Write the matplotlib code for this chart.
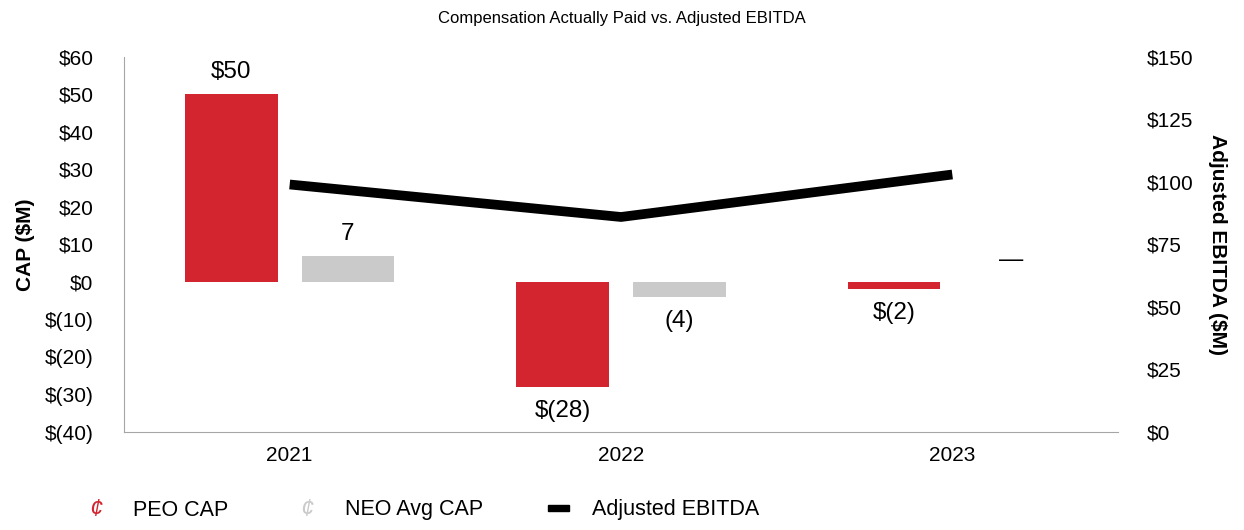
import matplotlib
matplotlib.use("Agg")
import matplotlib.pyplot as plt
import numpy as np
from matplotlib.patches import Rectangle

plt.rcParams["font.family"] = ["Liberation Sans", "DejaVu Sans"]

years = ["2021", "2022", "2023"]
peo_cap = [50, -28, -2]
neo_cap = [7, -4, 0]
ebitda = [99, 86, 103]

RED = "#D2252F"
GRAY = "#CACACA"


def money(v, dollar=True):
    if v == 0:
        return "\u2014"
    s = "$" if dollar else ""
    return f"{s}{v}" if v > 0 else f"{s}({abs(v)})"


fig = plt.figure(figsize=(12.44, 5.30), dpi=100)
ax = fig.add_axes([0.0997, 0.1849, 0.7990, 0.7076])
ax2 = ax.twinx()

x = np.arange(len(years))
w = 0.28
off = 0.176
b1 = ax.bar(x - off, peo_cap, w, color=RED, zorder=2)
b2 = ax.bar(x + off, neo_cap, w, color=GRAY, zorder=2)

for bars, vals, dollar in ((b1, peo_cap, True), (b2, neo_cap, False)):
    for r, v in zip(bars, vals):
        cx = r.get_x() + r.get_width() / 2
        dy = 16 if v >= 0 else -17
        ax.annotate(money(v, dollar), (cx, v), xytext=(0, dy), textcoords="offset points",
                    ha="center", va="center", fontsize=17.5)

ax2.plot(x, ebitda, color="black", lw=7, solid_capstyle="butt", zorder=3)

ax.set_xlim(-0.5, 2.5)
ax.set_ylim(-40, 60)
ax.set_yticks(range(-40, 61, 10))
ax.set_yticklabels([money(v) if v != 0 else "$0" for v in range(-40, 61, 10)], fontsize=15)
ax2.set_ylim(0, 150)
ax2.set_yticks(range(0, 151, 25))
ax2.set_yticklabels([f"${v}" for v in range(0, 151, 25)], fontsize=15)
ax.set_xticks(x)
ax.set_xticklabels(years, fontsize=15)

for a in (ax, ax2):
    for s in ("top", "right", "left", "bottom"):
        a.spines[s].set_visible(False)
ax.spines["left"].set_visible(True)
ax.spines["bottom"].set_visible(True)
ax.spines["left"].set_color("#A6A6A6")
ax.spines["bottom"].set_color("#A6A6A6")
ax.tick_params(axis="x", length=0, pad=10)
ax.tick_params(axis="y", length=0, pad=22)
ax2.tick_params(axis="y", length=0, pad=21)

ax.set_ylabel("CAP ($M)", fontsize=15, fontweight="bold")
ax2.set_ylabel("Adjusted EBITDA ($M)", fontsize=15, fontweight="bold", rotation=270, va="center")
ax.yaxis.set_label_coords(-0.09, 0.5)
ax2.yaxis.set_label_coords(1.1, 0.5)

fig.text(0.5, 0.966, "Compensation Actually Paid vs. Adjusted EBITDA", ha="center", va="center",
         fontsize=12)

# legend row along the bottom
ly = 1 - 510 / 530
fig.text(96 / 1244, ly, "\u00a2", color=RED, fontsize=17, ha="center", va="center", style="italic")
fig.text(133 / 1244, ly, "PEO CAP", fontsize=15.5, ha="left", va="center")
fig.text(307 / 1244, ly, "\u00a2", color=GRAY, fontsize=17, ha="center", va="center", style="italic")
fig.text(345 / 1244, ly, "NEO Avg CAP", fontsize=15.5, ha="left", va="center")
fig.patches.append(Rectangle((548 / 1244, 1 - 511 / 530), 21 / 1244, 6 / 530,
                             transform=fig.transFigure, color="black"))
fig.text(592 / 1244, ly, "Adjusted EBITDA", fontsize=15.5, ha="left", va="center")

fig.savefig("out.png", dpi=100)
